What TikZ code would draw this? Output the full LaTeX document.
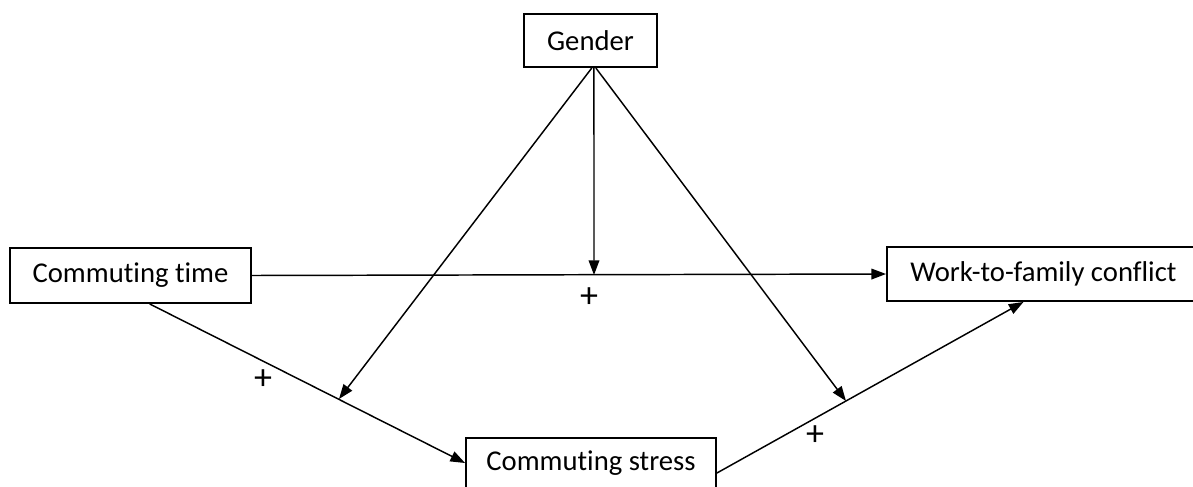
\documentclass[tikz,border=0pt]{standalone}
\usepackage{fontspec}
\setmainfont[Ligatures=NoCommon]{Carlito}
\usetikzlibrary{arrows.meta}
\begin{document}
\begin{tikzpicture}[x=0.75pt, y=-0.75pt, line width=1.1pt,
  >={Triangle[length=11pt,width=8pt]},
  box/.style={draw, line width=1.4pt, inner sep=0pt, font=\fontsize{21.5}{25}\selectfont},
  sign/.style={font=\fontsize{27}{30}\selectfont}]
  \useasboundingbox (0,0) rectangle (1193,486);
  \clip (0,0) rectangle (1193,486);
  % 상자
  \node[box, minimum width=99.75pt, minimum height=39.75pt] (gender) at (590.5,40.5) {Gender};
  \node[box, minimum width=180.75pt, minimum height=41.25pt] (time) at (130.5,275.5) {Commuting time};
  \node[box, minimum width=234.75pt, minimum height=40.5pt] (wfc) at (1043.5,274) {Work-to-family conflict};
  \node[box, minimum width=187.5pt, minimum height=37.5pt] (stress) at (591,463) {Commuting stress};
  % 조절 효과가 닿는 점
  \coordinate (mt) at (594,275);
  \coordinate (ml) at (339,399);
  \coordinate (mr) at (846,401);
  % 경로
  \draw[->] (time.east) -- (wfc.west);
  \draw[->] (time.-56) -- (stress.west);
  \draw[->] ([yshift=-7.5pt]stress.east) -- ([xshift=-15pt]wfc.south);
  \draw[->] ([xshift=2.6pt]gender.south) -- (mt);
  \draw[->] ([xshift=1pt]gender.south) -- (ml);
  \draw[->] ([xshift=4pt]gender.south) -- (mr);
  % 부호
  \node[sign] (p1) at (589,298) {+};
  \node[sign] (p2) at (263,380) {+};
  \node[sign] (p3) at (815,436) {+};
\end{tikzpicture}
\end{document}
